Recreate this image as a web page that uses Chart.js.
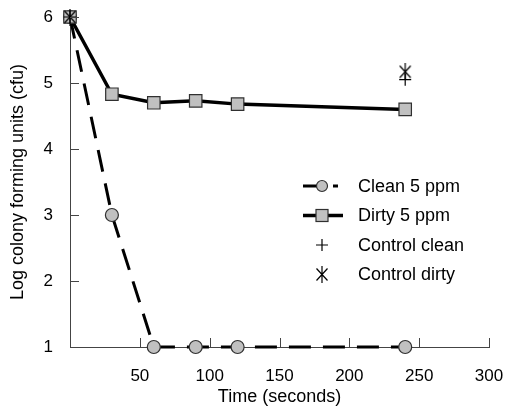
<!DOCTYPE html>
<html>
<head>
<meta charset="utf-8">
<script src="https://cdn.jsdelivr.net/npm/chart.js@4/dist/chart.umd.min.js"></script>
<style>
  html, body { margin: 0; padding: 0; background: #fff; }
  #wrap { width: 506px; height: 408px; }
</style>
</head>
<body>
<div id="wrap"><canvas id="c" width="506" height="408"></canvas></div>
<script>
// Sampling times (s) and log10 colony counts
const timeSeconds    = [0, 30, 60, 90, 120, 240];
const clean5ppm      = [6, 3, 1, 1, 1, 1];
const dirty5ppm      = [6, 4.83, 4.70, 4.73, 4.68, 4.60];
const controlTimes   = [0, 240];
const controlClean   = [6, 5.05];
const controlDirty   = [6, 5.17];
const xTickValues    = [50, 100, 150, 200, 250, 300];
const yTickValues    = [1, 2, 3, 4, 5, 6];
const legendLabels   = ['Clean 5 ppm', 'Dirty 5 ppm', 'Control clean', 'Control dirty'];

const FONT = '"Liberation Sans", Arial, sans-serif';
const MARK_FILL = '#c0c0c0';
const MARK_EDGE = '#303030';

function pairs(xs, ys) { return xs.map((x, i) => ({ x, y: ys[i] })); }

// Six-armed asterisk: an X crossed by a vertical stroke
function asteriskMarker() {
  const w = 14, h = 17;
  const c = document.createElement('canvas');
  c.width = w; c.height = h;
  const g = c.getContext('2d');
  g.strokeStyle = '#000';
  g.lineWidth = 1.2;
  g.beginPath();
  g.moveTo(1.5, 2.5);  g.lineTo(12.5, 14.5);
  g.moveTo(12.5, 2.5); g.lineTo(1.5, 14.5);
  g.moveTo(7, 0);      g.lineTo(7, 17);
  g.stroke();
  return c;
}
const asterisk = asteriskMarker();

// Inward tick marks on the two axes
const innerTicks = {
  id: 'innerTicks',
  afterDatasetsDraw(chart) {
    const { ctx, scales: { x, y }, chartArea: a } = chart;
    ctx.save();
    ctx.strokeStyle = '#444';
    ctx.lineWidth = 1;
    ctx.beginPath();
    xTickValues.forEach(v => {
      const px = Math.round(x.getPixelForValue(v)) + 0.5;
      ctx.moveTo(px, a.bottom); ctx.lineTo(px, a.bottom - 9);
    });
    yTickValues.forEach(v => {
      if (v === 1) return;
      const py = Math.round(y.getPixelForValue(v)) + 0.5;
      ctx.moveTo(a.left, py); ctx.lineTo(a.left + 9, py);
    });
    ctx.stroke();
    ctx.restore();
  }
};

// Legend box drawn inside the plot area
const sideLegend = {
  id: 'sideLegend',
  afterDraw(chart) {
    const { ctx, chartArea: a } = chart;
    const x0 = a.left + 233, x1 = a.left + 273, xm = a.left + 252, tx = a.left + 288;
    const y0 = a.top + 169, dy = 29.5;
    ctx.save();
    ctx.font = '18px ' + FONT;
    ctx.fillStyle = '#000';
    ctx.textBaseline = 'middle';
    ctx.textAlign = 'left';

    // Clean 5 ppm: dashed line with round marker
    let yy = y0;
    ctx.strokeStyle = '#000';
    ctx.lineWidth = 3;
    ctx.beginPath();
    ctx.moveTo(x0, yy); ctx.lineTo(xm, yy);
    ctx.moveTo(xm + 11, yy); ctx.lineTo(xm + 16, yy);
    ctx.stroke();
    ctx.beginPath();
    ctx.arc(xm, yy, 5.5, 0, Math.PI * 2);
    ctx.fillStyle = MARK_FILL; ctx.fill();
    ctx.lineWidth = 1.2; ctx.strokeStyle = MARK_EDGE; ctx.stroke();
    ctx.fillStyle = '#000';
    ctx.fillText(legendLabels[0], tx, yy + 1);

    // Dirty 5 ppm: solid line with square marker
    yy = y0 + dy;
    ctx.strokeStyle = '#000';
    ctx.lineWidth = 3.5;
    ctx.beginPath(); ctx.moveTo(x0, yy); ctx.lineTo(x1, yy); ctx.stroke();
    ctx.fillStyle = MARK_FILL;
    ctx.fillRect(xm - 6, yy - 6, 12, 12);
    ctx.lineWidth = 1.2; ctx.strokeStyle = MARK_EDGE;
    ctx.strokeRect(xm - 6, yy - 6, 12, 12);
    ctx.fillStyle = '#000';
    ctx.fillText(legendLabels[1], tx, yy + 1);

    // Control clean: plus
    yy = y0 + dy * 2;
    ctx.strokeStyle = '#000'; ctx.lineWidth = 1.2;
    ctx.beginPath();
    ctx.moveTo(xm - 6, yy); ctx.lineTo(xm + 6, yy);
    ctx.moveTo(xm, yy - 6); ctx.lineTo(xm, yy + 6);
    ctx.stroke();
    ctx.fillText(legendLabels[2], tx, yy + 1);

    // Control dirty: asterisk
    yy = y0 + dy * 3;
    ctx.drawImage(asterisk, xm - asterisk.width / 2, yy - asterisk.height / 2);
    ctx.fillText(legendLabels[3], tx, yy + 1);
    ctx.restore();
  }
};

new Chart(document.getElementById('c'), {
  type: 'line',
  data: {
    datasets: [
      {
        label: legendLabels[3],
        data: pairs(controlTimes, controlDirty),
        showLine: false,
        pointStyle: asterisk,
        pointRadius: 7,
        order: 0,
        clip: false
      },
      {
        label: legendLabels[2],
        data: pairs(controlTimes, controlClean),
        showLine: false,
        pointStyle: 'cross',
        pointRadius: 6,
        pointBorderColor: '#000',
        pointBorderWidth: 1.2,
        order: 1,
        clip: false
      },
      {
        label: legendLabels[1],
        data: pairs(timeSeconds, dirty5ppm),
        borderColor: '#000',
        borderWidth: 3.5,
        pointStyle: 'rect',
        pointRadius: 8.8,
        pointBackgroundColor: MARK_FILL,
        pointBorderColor: MARK_EDGE,
        pointBorderWidth: 1.2,
        tension: 0,
        order: 2,
        clip: false
      },
      {
        label: legendLabels[0],
        data: pairs(timeSeconds, clean5ppm),
        borderColor: '#000',
        borderWidth: 3,
        borderDash: [22, 12],
        pointStyle: 'circle',
        pointRadius: 6.5,
        pointBackgroundColor: MARK_FILL,
        pointBorderColor: MARK_EDGE,
        pointBorderWidth: 1.2,
        tension: 0,
        order: 3,
        clip: false
      }
    ]
  },
  options: {
    responsive: false,
    animation: false,
    events: [],
    layout: { padding: 0 },
    plugins: {
      legend: { display: false },
      tooltip: { enabled: false }
    },
    scales: {
      x: {
        type: 'linear',
        min: 0,
        max: 300,
        afterFit(s) {
          s.height = 61;
          s.paddingLeft = 0;
          s.paddingRight = 17;
        },
        afterBuildTicks(s) { s.ticks = xTickValues.map(v => ({ value: v })); },
        border: { display: true, color: '#444', width: 1 },
        grid: { display: true, drawOnChartArea: false, drawTicks: false },
        ticks: {
          color: '#000',
          padding: 19,
          maxRotation: 0,
          autoSkip: false,
          font: { family: FONT, size: 17 }
        },
        title: {
          display: true,
          text: 'Time (seconds)',
          color: '#000',
          padding: { top: 0, bottom: 0 },
          font: { family: FONT, size: 18 }
        }
      },
      y: {
        type: 'linear',
        min: 1,
        max: 6,
        afterFit(s) {
          s.width = 70;
          s.paddingTop = 17;
          s.paddingBottom = 0;
        },
        afterBuildTicks(s) { s.ticks = yTickValues.map(v => ({ value: v })); },
        border: { display: true, color: '#444', width: 1 },
        grid: { display: true, drawOnChartArea: false, drawTicks: false },
        ticks: {
          color: '#000',
          padding: 17,
          autoSkip: false,
          font: { family: FONT, size: 17 }
        },
        title: {
          display: true,
          text: 'Log colony forming units (cfu)',
          color: '#000',
          padding: { top: 7, bottom: 0 },
          font: { family: FONT, size: 18 }
        }
      }
    }
  },
  plugins: [innerTicks, sideLegend]
});
</script>
</body>
</html>
